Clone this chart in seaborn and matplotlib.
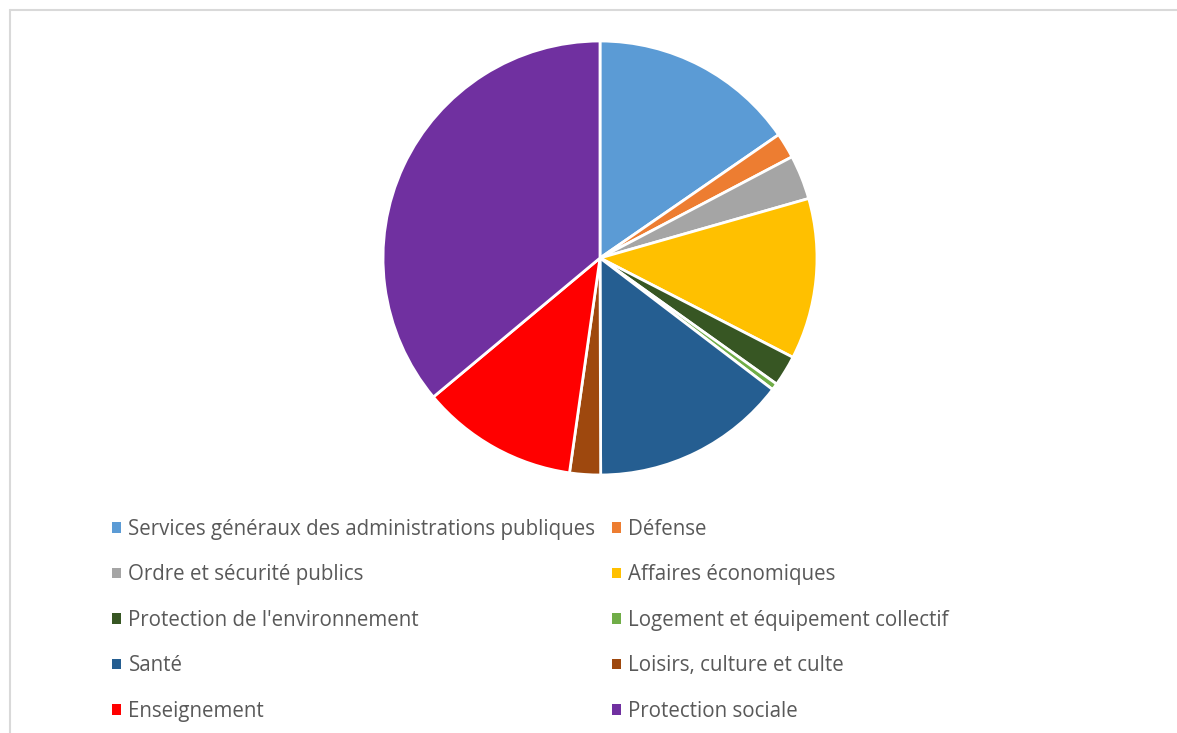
import matplotlib
matplotlib.use("Agg")
import matplotlib.pyplot as plt
import seaborn as sns
from matplotlib.patches import Patch
from matplotlib.lines import Line2D

categories = [
    "Services généraux des administrations publiques",
    "Défense",
    "Ordre et sécurité publics",
    "Affaires économiques",
    "Protection de l'environnement",
    "Logement et équipement collectif",
    "Santé",
    "Loisirs, culture et culte",
    "Enseignement",
    "Protection sociale",
]
values = [15.4, 1.9, 3.3, 12.0, 2.3, 0.5, 14.6, 2.3, 11.7, 36.1]
colors = ["#5B9BD5", "#ED7D31", "#A5A5A5", "#FFC000", "#375623",
          "#70AD47", "#255E91", "#9E480E", "#FF0000", "#7030A0"]

sns.set_theme(style="white")
plt.rcParams['font.family'] = ['Open Sans', 'DejaVu Sans']

W, H = 1177, 733
fig = plt.figure(figsize=(W / 100, H / 100), dpi=100)

cx, cy, r = 600, 258, 217
ax = fig.add_axes([(cx - r) / W, (H - cy - r) / H, 2 * r / W, 2 * r / H])
ax.pie(values, colors=sns.color_palette(colors), startangle=90, counterclock=False,
       radius=1, wedgeprops=dict(edgecolor="white", linewidth=2.0))
ax.set_xlim(-1, 1)
ax.set_ylim(-1, 1)
ax.set_aspect("equal")
ax.axis("off")

# frame
fig.add_artist(Line2D([9.5 / W, 9.5 / W], [0, 1 - 10 / H], transform=fig.transFigure,
                      color="#d9d9d9", lw=1.5))
fig.add_artist(Line2D([9.5 / W, 1.0], [1 - 10 / H, 1 - 10 / H], transform=fig.transFigure,
                      color="#d9d9d9", lw=1.5))

handles = [Patch(facecolor=c, edgecolor="none") for c in colors]
fs = 14.8
common = dict(frameon=False, fontsize=fs, handlelength=0.42, handleheight=0.42,
              handletextpad=0.38, labelspacing=1.19, labelcolor="#595959",
              borderpad=0, borderaxespad=0)
left_idx = [0, 2, 4, 6, 8]
right_idx = [1, 3, 5, 7, 9]
fig.legend([handles[i] for i in left_idx], [categories[i] for i in left_idx],
           loc="upper left", bbox_to_anchor=(112 / W, 1 - 519 / H), **common)
fig.legend([handles[i] for i in right_idx], [categories[i] for i in right_idx],
           loc="upper left", bbox_to_anchor=(612 / W, 1 - 519 / H), **common)

fig.savefig("out.png", dpi=100)
